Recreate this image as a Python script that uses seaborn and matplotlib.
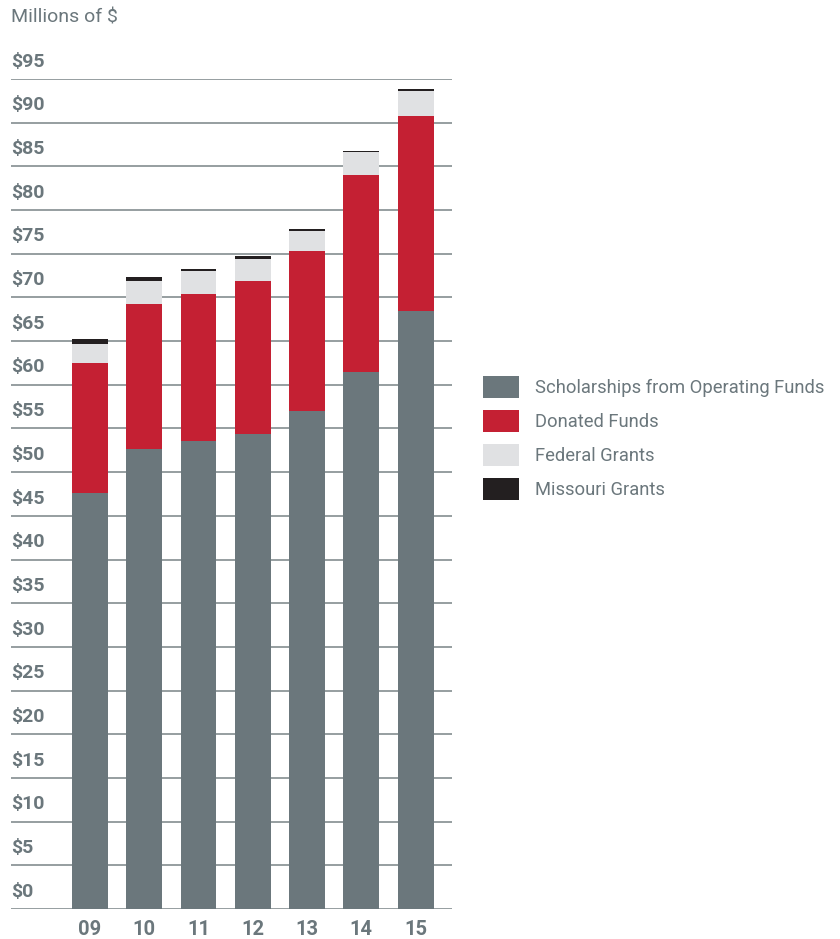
import numpy as np
import pandas as pd
import matplotlib
matplotlib.use("Agg")
import matplotlib.pyplot as plt
import seaborn as sns
from matplotlib.patches import Patch
from matplotlib.transforms import offset_copy

years = ["09", "10", "11", "12", "13", "14", "15"]
operating = [47.6, 52.7, 53.6, 54.35, 57.0, 61.5, 68.45]
donated = [14.9, 16.55, 16.8, 17.55, 18.3, 22.5, 22.3]
federal = [2.2, 2.65, 2.6, 2.5, 2.3, 2.6, 2.85]
missouri = [0.5, 0.4, 0.25, 0.35, 0.25, 0.15, 0.25]
series_names = ["Scholarships from Operating Funds", "Donated Funds", "Federal Grants", "Missouri Grants"]
yticks = list(range(0, 100, 5))
ytick_labels = [f"${v}" for v in yticks]

colors = ["#6b777c", "#c42033", "#e0e1e3", "#231f20"]
text_gray = "#6b777c"

sns.set_theme(style="white")
fam = ["Roboto", "DejaVu Sans"]
plt.rcParams["font.family"] = fam

df = pd.DataFrame({"year": years, "op": operating, "don": donated, "fed": federal, "mo": missouri})
df["c1"] = df["op"]
df["c2"] = df["c1"] + df["don"]
df["c3"] = df["c2"] + df["fed"]
df["c4"] = df["c3"] + df["mo"]

fig = plt.figure(figsize=(8.4, 9.39), dpi=100)
ax = fig.add_axes([11/840, 30/939, 441/840, 830/939])

for col, c in zip(["c4", "c3", "c2", "c1"], colors[::-1]):
    sns.barplot(data=df, x="year", y=col, color=c, width=0.66, ax=ax,
                saturation=1, linewidth=0, zorder=3)

ax.set_xlim(-1.455, 6.67)
ax.set_ylim(0, 95)
ax.set_yticks(yticks)
ax.set_yticklabels([])
ax.tick_params(axis="y", length=0)
ax.grid(axis="y", color="#8e9699", linewidth=1.3, zorder=1)
ax.set_axisbelow(True)
for s in ax.spines.values():
    s.set_visible(False)
ax.set_xlabel("")
ax.set_ylabel("")
ax.tick_params(axis="x", length=0, pad=8)
for lab in ax.get_xticklabels():
    lab.set_fontweight("bold")
    lab.set_color(text_gray)
    lab.set_fontsize(14.5)
    lab.set_family(fam)

tr = offset_copy(ax.get_yaxis_transform(), fig=fig, x=0, y=6, units="points")
for v, lab in zip(yticks, ytick_labels):
    ax.text(0.0, v, lab, transform=tr, ha="left", va="bottom",
            fontsize=14, fontweight="bold", color=text_gray, family=fam)

fig.text(11/840, 1 - 17/939, "Millions of $", ha="left", va="center",
         fontsize=14, color=text_gray, family=fam)

handles = [Patch(facecolor=c, edgecolor="none") for c in colors]
fs = 13.2
px = fs * 100 / 72
fig.legend(handles, series_names, loc="center left",
           bbox_to_anchor=(483/840, 1 - 438/939), frameon=False,
           fontsize=fs, handlelength=36/px, handleheight=27/px,
           labelspacing=12/px, handletextpad=16/px,
           borderpad=0, borderaxespad=0, labelcolor=text_gray,
           prop={"family": fam, "size": fs})

fig.savefig("out.png", dpi=100)
